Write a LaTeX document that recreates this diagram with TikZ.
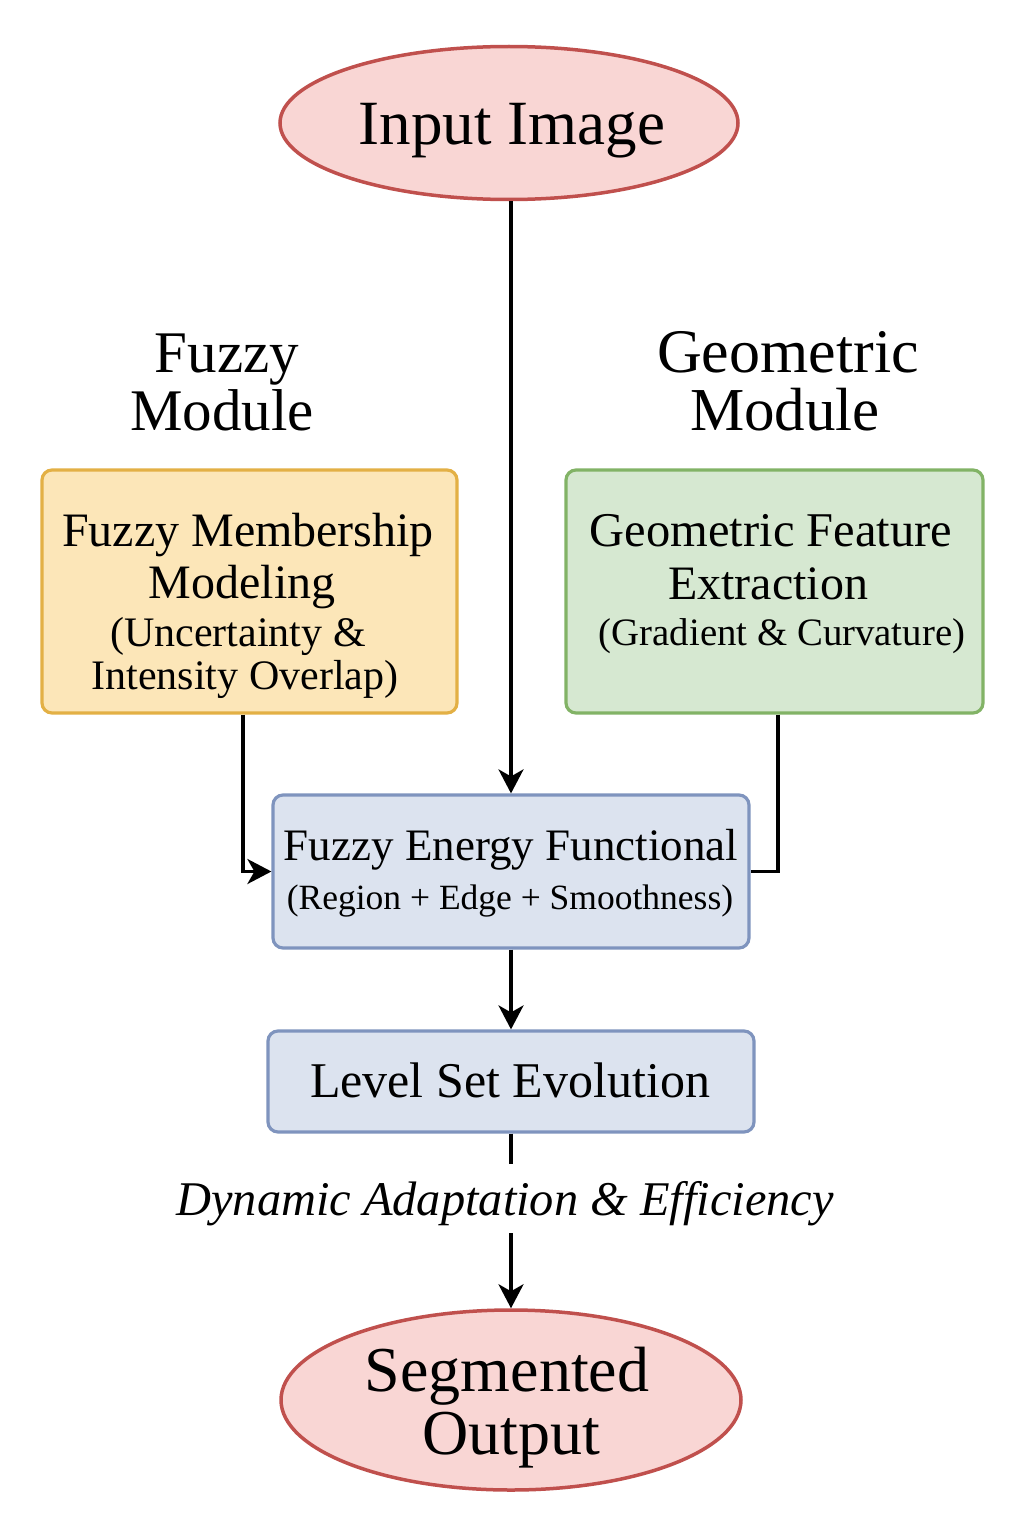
\documentclass[tikz,border=0pt]{standalone}
\usepackage{fontspec}
\setmainfont{Liberation Serif}
\usetikzlibrary{arrows.meta,shapes.geometric}
\definecolor{pinkfill}{HTML}{F9D6D4}
\definecolor{pinkline}{HTML}{C0504D}
\definecolor{orfill}{HTML}{FCE6B8}
\definecolor{orline}{HTML}{E3B045}
\definecolor{grfill}{HTML}{D6E8D1}
\definecolor{grline}{HTML}{82B366}
\definecolor{blfill}{HTML}{DCE3EF}
\definecolor{blline}{HTML}{7F94BE}
\begin{document}
\begin{tikzpicture}[x=1pt,y=-1pt,
  oval/.style={ellipse, draw=pinkline, fill=pinkfill, line width=3.5pt, inner sep=0pt},
  boxnode/.style={rectangle, rounded corners=10pt, line width=3.2pt, inner sep=0pt},
  txt/.style={anchor=base, inner sep=0pt},
  conn/.style={line width=3.4pt},
  arr/.style={conn, -{Stealth[length=24pt,width=25pt,inset=7pt]}}]
\useasboundingbox (0,0) rectangle (1024,1536);
\fill[white] (0,0) rectangle (1024,1536);

% shapes
\node[oval, minimum width=458pt, minimum height=153pt] (input) at (509,123) {};
\node[boxnode, draw=orline, fill=orfill, minimum width=415pt, minimum height=243pt] (fuzzybox) at (249.5,591.5) {};
\node[boxnode, draw=grline, fill=grfill, minimum width=417pt, minimum height=243pt] (geobox) at (774.5,591.5) {};
\node[boxnode, draw=blline, fill=blfill, minimum width=476pt, minimum height=153pt] (energy) at (511,871.5) {};
\node[boxnode, draw=blline, fill=blfill, minimum width=486pt, minimum height=101pt] (level) at (511,1081.5) {};
\node[oval, minimum width=460pt, minimum height=180pt] (output) at (511,1400) {};

% texts
\node[txt, font=\fontsize{63}{70}\selectfont] (t-input) at (512,144) {Input Image};
\node[txt, font=\fontsize{59}{66}\selectfont] (t-fm1) at (227,372) {Fuzzy};
\node[txt, font=\fontsize{59}{66}\selectfont] (t-fm2) at (222,430) {Module};
\node[txt, font=\fontsize{62}{68}\selectfont] (t-gm1) at (788,372) {Geometric};
\node[txt, font=\fontsize{61}{68}\selectfont] (t-gm2) at (785,430) {Module};

\node[txt, font=\fontsize{48}{52}\selectfont] (t-f1) at (248,546) {Fuzzy Membership};
\node[txt, font=\fontsize{48}{52}\selectfont] (t-f2) at (242,598) {Modeling};
\node[txt, font=\fontsize{42}{46}\selectfont] (t-f3) at (238,646) {(Uncertainty \&};
\node[txt, font=\fontsize{42}{46}\selectfont] (t-f4) at (245,689) {Intensity Overlap)};

\node[txt, font=\fontsize{48.5}{52}\selectfont] (t-g1) at (771,546) {Geometric Feature};
\node[txt, font=\fontsize{48}{52}\selectfont] (t-g2) at (768,599) {Extraction};
\node[txt, font=\fontsize{38.8}{44}\selectfont] (t-g3) at (782,645) {(Gradient \& Curvature)};

\node[txt, font=\fontsize{45}{50}\selectfont] (t-e1) at (511,860) {Fuzzy Energy Functional};
\node[txt, font=\fontsize{35.5}{40}\selectfont] (t-e2) at (510,909) {(Region + Edge + Smoothness)};

\node[txt, font=\fontsize{50}{56}\selectfont] (t-l) at (510,1097) {Level Set Evolution};

\node[txt, font=\fontsize{48.4}{54}\selectfont\itshape] (dyn) at (505,1215) {Dynamic Adaptation \& Efficiency};

\node[txt, font=\fontsize{64}{70}\selectfont] (t-o1) at (507,1391) {Segmented};
\node[txt, font=\fontsize{64}{70}\selectfont] (t-o2) at (511,1454) {Output};

% connectors
\coordinate (fz) at (243,871);
\coordinate (gz) at (778,871);
\coordinate (d1) at (511,1164);
\coordinate (d2) at (511,1233);
\draw[arr] (input.south -| energy.north) -- (energy.north);
\draw[arr] (fuzzybox.south -| fz) |- (energy.west);
\draw[conn] (geobox.south -| gz) |- (energy.east);
\draw[arr] (energy.south) -- (level.north);
\draw[conn] (level.south) -- (d1);
\draw[arr] (d2) -- (output.north);
\end{tikzpicture}
\end{document}
